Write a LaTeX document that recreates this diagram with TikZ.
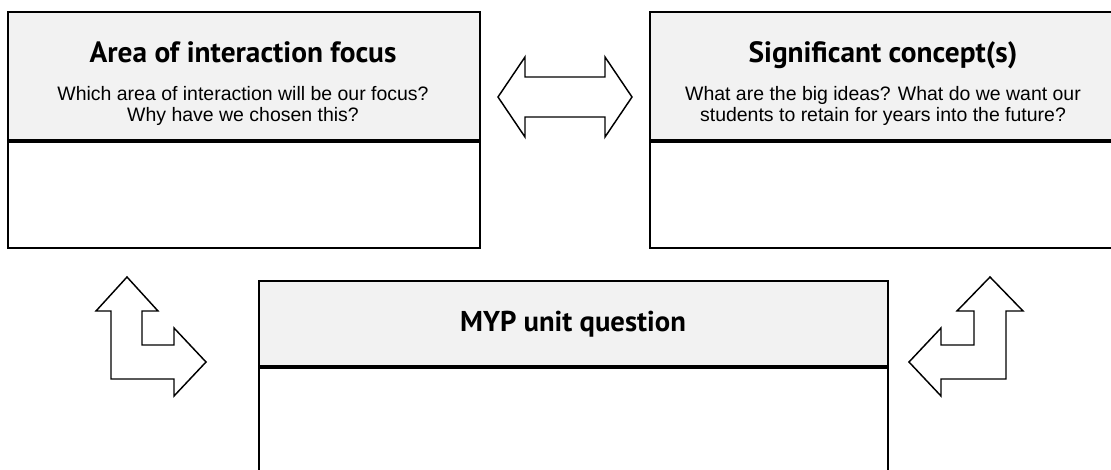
\documentclass[tikz,border=0pt]{standalone}
\usepackage{fontspec}
\setmainfont{Liberation Sans}
\newfontfamily\headfont{PT Sans}
\usetikzlibrary{positioning}
\definecolor{headgray}{HTML}{F2F2F2}

\begin{document}
\begin{tikzpicture}[x=0.75pt, y=-0.75pt, line width=1.5pt,
  headbox/.style = {draw, fill=headgray, minimum width=354pt, minimum height=96pt, inner sep=0pt},
  bodybox/.style = {draw, fill=white, minimum width=354pt, minimum height=79.5pt, inner sep=0pt},
  title/.style = {font=\headfont\bfseries\fontsize{22}{26}\selectfont, inner sep=0pt, anchor=base},
  question/.style = {font=\fontsize{14.6}{15.75}\selectfont, align=center, inner sep=0pt, anchor=base},
  bigarrow/.style = {draw, fill=white, line width=1.1pt, line join=miter}]

\useasboundingbox (0,0) rectangle (1111,469);

% top left box
\node[headbox, anchor=north west] (aoihead) at (7,11) {};
\node[bodybox, below=0pt of aoihead] (aoibody) {};
\node[title] (aoititle) at (243,62) {Area of interaction focus};
\node[question] (aoiq) at (243,121) {Which area of interaction will be our focus?\\Why have we chosen this?};

% top right box
\node[headbox, anchor=north west] (sighead) at (649,11) {};
\node[bodybox, below=0pt of sighead] (sigbody) {};
\node[title] (sigtitle) at (883,62) {Significant concept(s)};
\node[question] (sigq) at (883,121) {What are the big ideas? What do we want our\\students to retain for years into the future?};

% bottom box
\node[headbox, minimum width=471.75pt, minimum height=63.75pt, anchor=north west] (myphead) at (258,280) {};
\node[bodybox, minimum width=471.75pt, minimum height=90pt, below=0pt of myphead] (mypbody) {};
\node[title, font=\headfont\bfseries\fontsize{21.5}{26}\selectfont] (myptitle) at (573,331) {MYP unit question};

% arrows
\draw[bigarrow] (498,97) -- (525,57) -- (525,77) -- (605,77) -- (605,57) -- (632,97)
  -- (605,137) -- (605,117) -- (525,117) -- (525,137) -- cycle;
\draw[bigarrow] (127,277) -- (158,311) -- (142,311) -- (142,345) -- (174,345) -- (174,328)
  -- (206,362) -- (174,396) -- (174,379) -- (111,379) -- (111,311) -- (96,311) -- cycle;
\draw[bigarrow] (990,277) -- (1023,311) -- (1006,311) -- (1006,379) -- (941,379) -- (941,396)
  -- (909,362) -- (941,328) -- (941,345) -- (974,345) -- (974,311) -- (957,311) -- cycle;

\end{tikzpicture}
\end{document}
